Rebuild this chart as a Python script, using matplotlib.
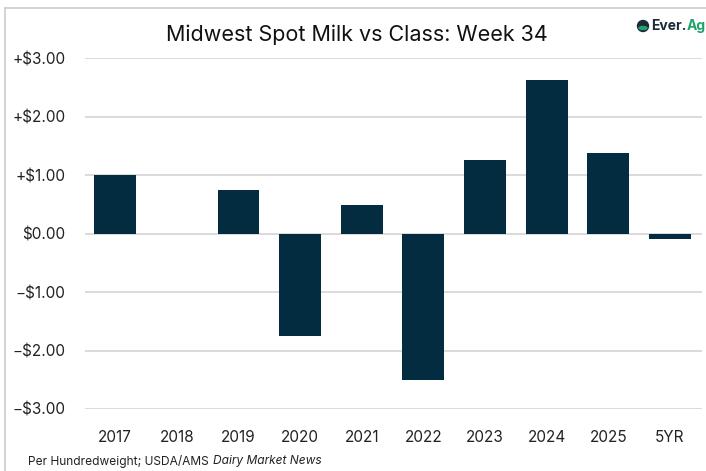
import matplotlib.pyplot as plt
from matplotlib.patches import Ellipse

# data
years = ['2017', '2018', '2019', '2020', '2021', '2022', '2023', '2024', '2025', '5YR']
spread = [1.00, 0.00, 0.74, -1.76, 0.48, -2.50, 1.25, 2.62, 1.37, -0.10]
yticks = [-3, -2, -1, 0, 1, 2, 3]

plt.rcParams['font.family'] = ['Inter', 'DejaVu Sans']

fig = plt.figure(figsize=(7.06, 4.71), dpi=100)
ax = fig.add_axes([85 / 706, 1 - 409 / 471, (702 - 85) / 706, (409 - 58) / 471])

x = list(range(len(years)))
ax.bar(x, spread, width=0.68, color='#032c40', zorder=3)

def money(v):
    if v < 0:
        return '\u2212$%.2f' % abs(v)
    if v > 0:
        return '+$%.2f' % v
    return '$0.00'

ax.set_xlim(-0.49, 9.52)
ax.set_ylim(-3, 3)
ax.set_yticks(yticks)
ax.set_yticklabels([money(v) for v in yticks])
ax.set_xticks(x)
ax.set_xticklabels(years)
ax.tick_params(axis='both', length=0, labelsize=11, colors='#222222')
ax.tick_params(axis='y', pad=14)
ax.tick_params(axis='x', pad=15)
ax.yaxis.grid(True, color='#d4d4d4', linewidth=1.2, zorder=0)
ax.set_axisbelow(True)
for s in ax.spines.values():
    s.set_visible(False)

fig.text(0.505, 1 - 35 / 471, 'Midwest Spot Milk vs Class: Week 34', ha='center', va='center',
         fontsize=15.5, color='#111111')

fig.canvas.draw()
r = fig.canvas.get_renderer()

# footnote
t1 = fig.text(28 / 706, 1 - 461 / 471, 'Per Hundredweight; USDA/AMS', ha='left', va='center',
              fontsize=8.6, color='#222222')
bb = t1.get_window_extent(r)
fig.text((bb.x1 + 4) / 706, 1 - 461 / 471, 'Dairy Market News', ha='left', va='center',
         fontsize=8.6, color='#222222', style='italic')

# logo
t2 = fig.text(651 / 706, 1 - 26 / 471, 'Ever.', ha='left', va='center', fontsize=10,
              fontweight='bold', color='#1c2a3a')
bb = t2.get_window_extent(r)
fig.text(bb.x1 / 706, 1 - 26 / 471, 'Ag', ha='left', va='center', fontsize=10,
         fontweight='bold', color='#1fa36b')
fig.patches.append(Ellipse((643 / 706, 1 - 26 / 471), 11 / 706, 11 / 471,
                           transform=fig.transFigure, color='#1c2a3a', figure=fig))
fig.patches.append(Ellipse((643 / 706, 1 - 28 / 471), 8 / 706, 3 / 471,
                           transform=fig.transFigure, color='#1fa36b', figure=fig))

# outer frame
fig.add_artist(plt.Line2D([5 / 706, 5 / 706], [0, 1 - 8 / 471], transform=fig.transFigure,
                          color='#cccccc', linewidth=1.2))
fig.add_artist(plt.Line2D([5 / 706, 1], [1 - 8 / 471, 1 - 8 / 471], transform=fig.transFigure,
                          color='#cccccc', linewidth=1.2))

fig.savefig('out.png', dpi=100)
